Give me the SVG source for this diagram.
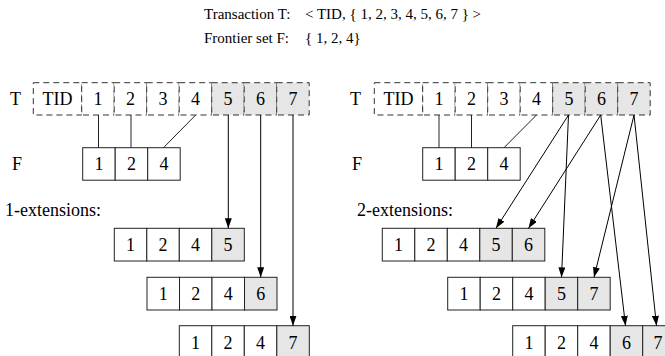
<svg xmlns="http://www.w3.org/2000/svg" width="665" height="356" viewBox="0 0 665 356" font-family="'Liberation Serif', 'Times New Roman', Tinos, 'DejaVu Serif', serif">
<defs>
<marker id="ah" viewBox="0 0 10 7" refX="10" refY="3.5" markerWidth="10" markerHeight="7" markerUnits="userSpaceOnUse" orient="auto"><path d="M0,0 L10,3.5 L0,7 z" fill="#000"/></marker>
<style>
text{font-family:'Liberation Serif','Times New Roman',Tinos,'DejaVu Serif',serif;fill:#000}
.t{font-size:18px;text-anchor:middle}
.l{font-size:18px}
.h{font-size:15px}
.dc{fill:#fff;stroke:#333;stroke-width:1;stroke-dasharray:6,4}
.dg{fill:#e6e6e6;stroke:#333;stroke-width:1;stroke-dasharray:6,4}
.c{fill:#fff;stroke:#222;stroke-width:1}
.g{fill:#e6e6e6;stroke:#222;stroke-width:1}
.ln{stroke:#222;stroke-width:1;fill:none}
.ar{stroke:#000;stroke-width:1;fill:none;marker-end:url(#ah)}
</style>
</defs>
<rect width="665" height="356" fill="#fff"/>
<g id="header">
<text class="h" x="204" y="19">Transaction T:</text>
<text class="h" x="305" y="19">&lt; TID, { 1, 2, 3, 4, 5, 6, 7 } &gt;</text>
<text class="h" x="204" y="43">Frontier set F:</text>
<text class="h" x="305" y="43">{ 1, 2, 4}</text>
</g>
<g id="left-T">
<text class="l" x="10" y="105">T</text>
<rect class="dc" x="33.3" y="82.7" width="48.4" height="32.3"/>
<rect class="dc" x="81.7" y="82.7" width="32.5" height="32.3"/>
<rect class="dc" x="114.2" y="82.7" width="32.5" height="32.3"/>
<rect class="dc" x="146.7" y="82.7" width="32.5" height="32.3"/>
<rect class="dc" x="179.2" y="82.7" width="32.5" height="32.3"/>
<rect class="dg" x="211.7" y="82.7" width="32.5" height="32.3"/>
<rect class="dg" x="244.2" y="82.7" width="32.5" height="32.3"/>
<rect class="dg" x="276.7" y="82.7" width="32.5" height="32.3"/>
<text class="t" x="57.5" y="105">TID</text>
<text class="t" x="98" y="105">1</text>
<text class="t" x="130.5" y="105">2</text>
<text class="t" x="163" y="105">3</text>
<text class="t" x="195.5" y="105">4</text>
<text class="t" x="228" y="105">5</text>
<text class="t" x="260.5" y="105">6</text>
<text class="t" x="293" y="105">7</text>
</g>
<g id="left-F">
<text class="l" x="12" y="170">F</text>
<rect class="c" x="82.7" y="147.7" width="32.5" height="32.5"/>
<rect class="c" x="115.2" y="147.7" width="32.5" height="32.5"/>
<rect class="c" x="147.7" y="147.7" width="32.5" height="32.5"/>
<text class="t" x="99" y="170">1</text>
<text class="t" x="131.5" y="170">2</text>
<text class="t" x="164" y="170">4</text>
</g>
<g id="label-1ext"><text class="l" x="5" y="216">1-extensions:</text></g>
<g id="ext1-5">
<rect class="c" x="114.3" y="228.3" width="32.5" height="32.7"/>
<rect class="c" x="146.8" y="228.3" width="32.5" height="32.7"/>
<rect class="c" x="179.3" y="228.3" width="32.5" height="32.7"/>
<rect class="g" x="211.8" y="228.3" width="32.5" height="32.7"/>
<text class="t" x="130.5" y="251">1</text><text class="t" x="163" y="251">2</text><text class="t" x="195.5" y="251">4</text><text class="t" x="228" y="251">5</text>
</g>
<g id="ext1-6">
<rect class="c" x="147" y="277.3" width="32.5" height="32.7"/>
<rect class="c" x="179.5" y="277.3" width="32.5" height="32.7"/>
<rect class="c" x="212" y="277.3" width="32.5" height="32.7"/>
<rect class="g" x="244.5" y="277.3" width="32.5" height="32.7"/>
<text class="t" x="163.2" y="300">1</text><text class="t" x="195.7" y="300">2</text><text class="t" x="228.2" y="300">4</text><text class="t" x="260.7" y="300">6</text>
</g>
<g id="ext1-7">
<rect class="c" x="179.3" y="325.7" width="32.5" height="32.7"/>
<rect class="c" x="211.8" y="325.7" width="32.5" height="32.7"/>
<rect class="c" x="244.3" y="325.7" width="32.5" height="32.7"/>
<rect class="g" x="276.8" y="325.7" width="32.5" height="32.7"/>
<text class="t" x="195.5" y="348.5">1</text><text class="t" x="228" y="348.5">2</text><text class="t" x="260.5" y="348.5">4</text><text class="t" x="293" y="348.5">7</text>
</g>
<g id="right-T">
<text class="l" x="350" y="105">T</text>
<rect class="dc" x="374.3" y="82.7" width="48.4" height="32.3"/>
<rect class="dc" x="422.7" y="82.7" width="32.5" height="32.3"/>
<rect class="dc" x="455.2" y="82.7" width="32.5" height="32.3"/>
<rect class="dc" x="487.7" y="82.7" width="32.5" height="32.3"/>
<rect class="dc" x="520.2" y="82.7" width="32.5" height="32.3"/>
<rect class="dg" x="552.7" y="82.7" width="32.5" height="32.3"/>
<rect class="dg" x="585.2" y="82.7" width="32.5" height="32.3"/>
<rect class="dg" x="617.7" y="82.7" width="32.5" height="32.3"/>
<text class="t" x="398.5" y="105">TID</text>
<text class="t" x="439" y="105">1</text>
<text class="t" x="471.5" y="105">2</text>
<text class="t" x="504" y="105">3</text>
<text class="t" x="536.5" y="105">4</text>
<text class="t" x="569" y="105">5</text>
<text class="t" x="601.5" y="105">6</text>
<text class="t" x="634" y="105">7</text>
</g>
<g id="right-F">
<text class="l" x="352" y="170">F</text>
<rect class="c" x="422.7" y="147.7" width="32.5" height="32.5"/>
<rect class="c" x="455.2" y="147.7" width="32.5" height="32.5"/>
<rect class="c" x="487.7" y="147.7" width="32.5" height="32.5"/>
<text class="t" x="439" y="170">1</text>
<text class="t" x="471.5" y="170">2</text>
<text class="t" x="504" y="170">4</text>
</g>
<g id="label-2ext"><text class="l" x="357" y="216">2-extensions:</text></g>
<g id="ext2-56">
<rect class="c" x="382.3" y="228.3" width="32.5" height="32.7"/>
<rect class="c" x="414.8" y="228.3" width="32.5" height="32.7"/>
<rect class="c" x="447.3" y="228.3" width="32.5" height="32.7"/>
<rect class="g" x="479.8" y="228.3" width="32.5" height="32.7"/>
<rect class="g" x="512.3" y="228.3" width="32.5" height="32.7"/>
<text class="t" x="398.5" y="251">1</text><text class="t" x="431" y="251">2</text><text class="t" x="463.5" y="251">4</text><text class="t" x="496" y="251">5</text><text class="t" x="528.5" y="251">6</text>
</g>
<g id="ext2-57">
<rect class="c" x="447.7" y="277.3" width="32.5" height="32.7"/>
<rect class="c" x="480.2" y="277.3" width="32.5" height="32.7"/>
<rect class="c" x="512.7" y="277.3" width="32.5" height="32.7"/>
<rect class="g" x="545.2" y="277.3" width="32.5" height="32.7"/>
<rect class="g" x="577.7" y="277.3" width="32.5" height="32.7"/>
<text class="t" x="464" y="300">1</text><text class="t" x="496.5" y="300">2</text><text class="t" x="529" y="300">4</text><text class="t" x="561.5" y="300">5</text><text class="t" x="594" y="300">7</text>
</g>
<g id="ext2-67">
<rect class="c" x="512.7" y="325.7" width="32.5" height="32.7"/>
<rect class="c" x="545.2" y="325.7" width="32.5" height="32.7"/>
<rect class="c" x="577.7" y="325.7" width="32.5" height="32.7"/>
<rect class="g" x="610.2" y="325.7" width="32.5" height="32.7"/>
<rect class="g" x="642.7" y="325.7" width="32.5" height="32.7"/>
<text class="t" x="529" y="348.5">1</text><text class="t" x="561.5" y="348.5">2</text><text class="t" x="594" y="348.5">4</text><text class="t" x="626.5" y="348.5">6</text><text class="t" x="658" y="348.5">7</text>
</g>
<g id="connectors">
<line class="ln" x1="98.5" y1="115" x2="98.5" y2="147.7"/>
<line class="ln" x1="131" y1="115" x2="131" y2="147.7"/>
<line class="ln" x1="195.7" y1="115" x2="163.5" y2="147.7"/>
<line class="ar" x1="228.3" y1="115" x2="228.3" y2="228.3"/>
<line class="ar" x1="260.7" y1="115" x2="260.7" y2="277.3"/>
<line class="ar" x1="293" y1="115" x2="293" y2="325.7"/>
<line class="ln" x1="439" y1="115" x2="439" y2="147.7"/>
<line class="ln" x1="471.5" y1="115" x2="471.5" y2="147.7"/>
<line class="ln" x1="536.5" y1="115" x2="504" y2="147.7"/>
<line class="ar" x1="568.5" y1="115" x2="496" y2="228.3"/>
<line class="ar" x1="568.5" y1="115" x2="561.5" y2="277.3"/>
<line class="ar" x1="600.7" y1="115" x2="528.5" y2="228.3"/>
<line class="ar" x1="600.7" y1="115" x2="625.5" y2="325.7"/>
<line class="ar" x1="634" y1="115" x2="594" y2="277.3"/>
<line class="ar" x1="634" y1="115" x2="656.5" y2="325.7"/>
</g>
</svg>
